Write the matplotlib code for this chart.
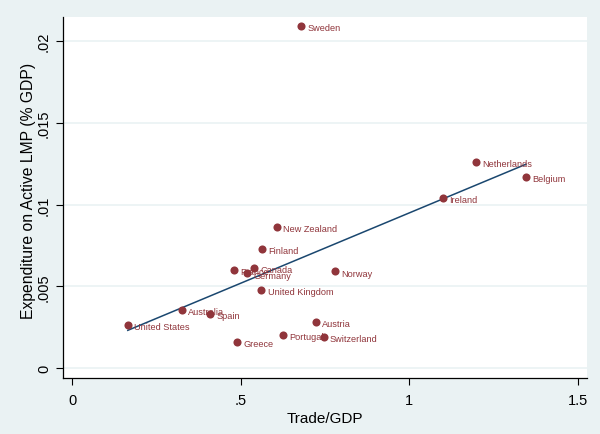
import numpy as np
import matplotlib.pyplot as plt

# datos por país: apertura comercial vs gasto en políticas activas
countries = ["Sweden", "Netherlands", "Belgium", "Ireland", "New Zealand",
             "Finland", "France", "Canada", "Germany", "Norway",
             "United Kingdom", "United States", "Australia", "Spain",
             "Austria", "Portugal", "Switzerland", "Greece"]
trade_gdp = [0.679, 1.199, 1.347, 1.100, 0.608,
             0.562, 0.480, 0.541, 0.518, 0.780,
             0.561, 0.165, 0.325, 0.409,
             0.724, 0.626, 0.746, 0.490]
almp = [0.02090, 0.01262, 0.01168, 0.01042, 0.00862,
        0.00730, 0.00599, 0.00610, 0.00579, 0.00591,
        0.00479, 0.00263, 0.00353, 0.00330,
        0.00280, 0.00200, 0.00191, 0.00159]

xticks = [0, 0.5, 1, 1.5]
yticks = [0, 0.005, 0.01, 0.015, 0.02]

bg = "#EAF2F3"
maroon = "#90353B"
navy = "#1A476F"

plt.rcParams['font.family'] = ['Liberation Sans', 'DejaVu Sans']

fig = plt.figure(figsize=(6, 4.35), dpi=100, facecolor=bg)
ax = fig.add_axes([0.1045, 0.1287, 0.8735, 0.8306])
ax.set_facecolor("white")

x = np.array(trade_gdp)
y = np.array(almp)

# recta de regresión (lfit)
b, a = np.polyfit(x, y, 1)
xs = np.array([x.min(), x.max()])
ax.plot(xs, a + b * xs, color=navy, lw=1.1, zorder=2)

ax.scatter(x, y, s=34, color=maroon, zorder=3, linewidths=0)
for name, xi, yi in zip(countries, trade_gdp, almp):
    ax.annotate(name, (xi, yi), xytext=(4.6, -1.2), textcoords="offset points",
                fontsize=6.6, color=maroon, va="center", ha="left", zorder=4)

def fmt(v):
    s = f"{v:g}"
    return s[1:] if s.startswith("0.") else s

ax.set_xlim(-0.0282, 1.5276)
ax.set_ylim(-0.000612, 0.021486)
ax.set_xticks(xticks)
ax.set_xticklabels([fmt(v) for v in xticks])
ax.set_yticks(yticks)
ax.set_yticklabels([fmt(v) for v in yticks], rotation=90, va="center")
ax.tick_params(labelsize=10.5, length=5, width=0.8, color="black")
ax.tick_params(axis="x", pad=6)
ax.tick_params(axis="y", pad=3.5)

ax.grid(axis="y", color=bg, lw=1.2)
ax.set_axisbelow(True)
for side in ["top", "right"]:
    ax.spines[side].set_visible(False)
for side in ["left", "bottom"]:
    ax.spines[side].set_linewidth(0.9)

ax.set_xlabel("Trade/GDP", fontsize=11, labelpad=3)
ax.set_ylabel("Expenditure on Active LMP (% GDP)", fontsize=11.3)
ax.yaxis.set_label_coords(-0.05, 0.52)

fig.savefig("out.png", dpi=100, facecolor=bg)
